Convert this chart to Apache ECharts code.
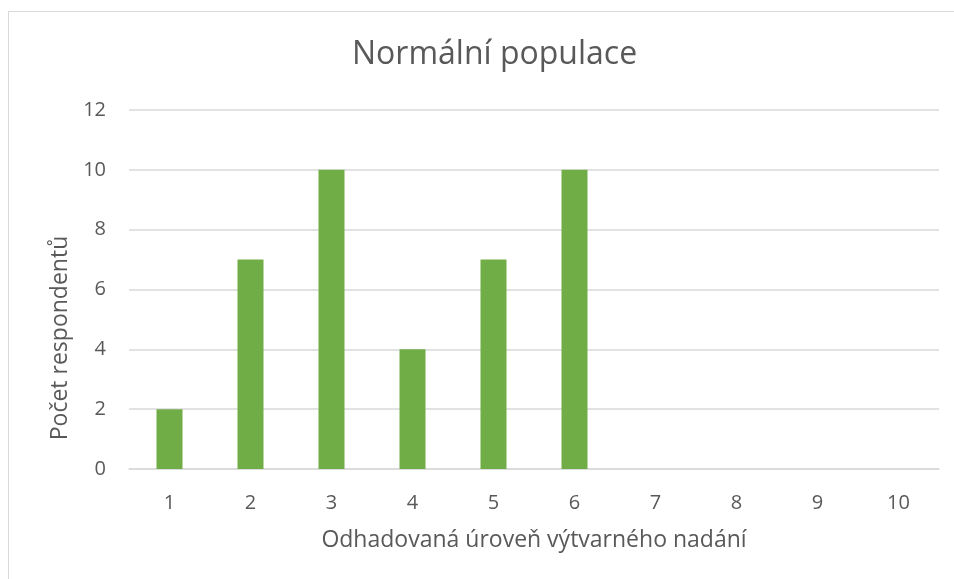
<!DOCTYPE html>
<html>
<head>
<meta charset="utf-8">
<script src="https://cdn.jsdelivr.net/npm/echarts@6/dist/echarts.min.js"></script>
<style>
    html, body { margin: 0; padding: 0; background: #fff; overflow: hidden; }
    #frame {
        position: absolute; left: 8px; top: 11px; width: 980px; height: 620px;
        border: 1px solid #d9d9d9;
    }
    #chart { position: absolute; left: 0; top: 0; width: 954px; height: 579px; }
</style>
</head>
<body>
<div id="frame"></div>
<div id="chart"></div>
<script>
const levels = ['1', '2', '3', '4', '5', '6', '7', '8', '9', '10'];
const respondents = [2, 7, 10, 4, 7, 10, 0, 0, 0, 0];

const textColor = '#595959';
const font = '"Open Sans", sans-serif';

const myChart = echarts.init(document.getElementById('chart'));

const option = {
    animation: false,
    textStyle: { fontFamily: font, color: textColor },
    title: {
        text: 'Normální populace',
        left: 347,
        top: 34,
        textStyle: { fontFamily: font, fontSize: 32, fontWeight: 'normal', color: textColor },
    },
    // y axis title sits lower than the plot centre in the original
    graphic: [
        {
            type: 'text',
            x: 60,
            y: 338,
            rotation: Math.PI / 2,
            style: {
                text: 'Počet respondentů',
                fontFamily: font,
                fontSize: 23,
                fill: textColor,
                align: 'center',
                verticalAlign: 'middle',
            },
        },
    ],
    grid: { left: 129, right: 15, top: 110, bottom: 110 },
    xAxis: {
        type: 'category',
        data: levels,
        name: 'Odhadovaná úroveň výtvarného nadání',
        nameLocation: 'middle',
        nameGap: 60,
        nameTextStyle: { fontSize: 23, color: textColor },
        axisLine: { lineStyle: { color: '#d9d9d9', width: 1.5 } },
        axisTick: { show: false },
        axisLabel: { fontSize: 20, color: textColor, margin: 24 },
    },
    yAxis: {
        type: 'value',
        min: 0,
        max: 12,
        interval: 2,
        axisLine: { show: false },
        axisTick: { show: false },
        axisLabel: { fontSize: 20, color: textColor, margin: 23 },
        splitLine: { lineStyle: { color: '#d9d9d9', width: 1.5 } },
    },
    series: [
        {
            type: 'bar',
            data: respondents,
            barWidth: 26,
            itemStyle: { color: '#70ad47' },
        },
    ],
};

myChart.setOption(option);
</script>
</body>
</html>
